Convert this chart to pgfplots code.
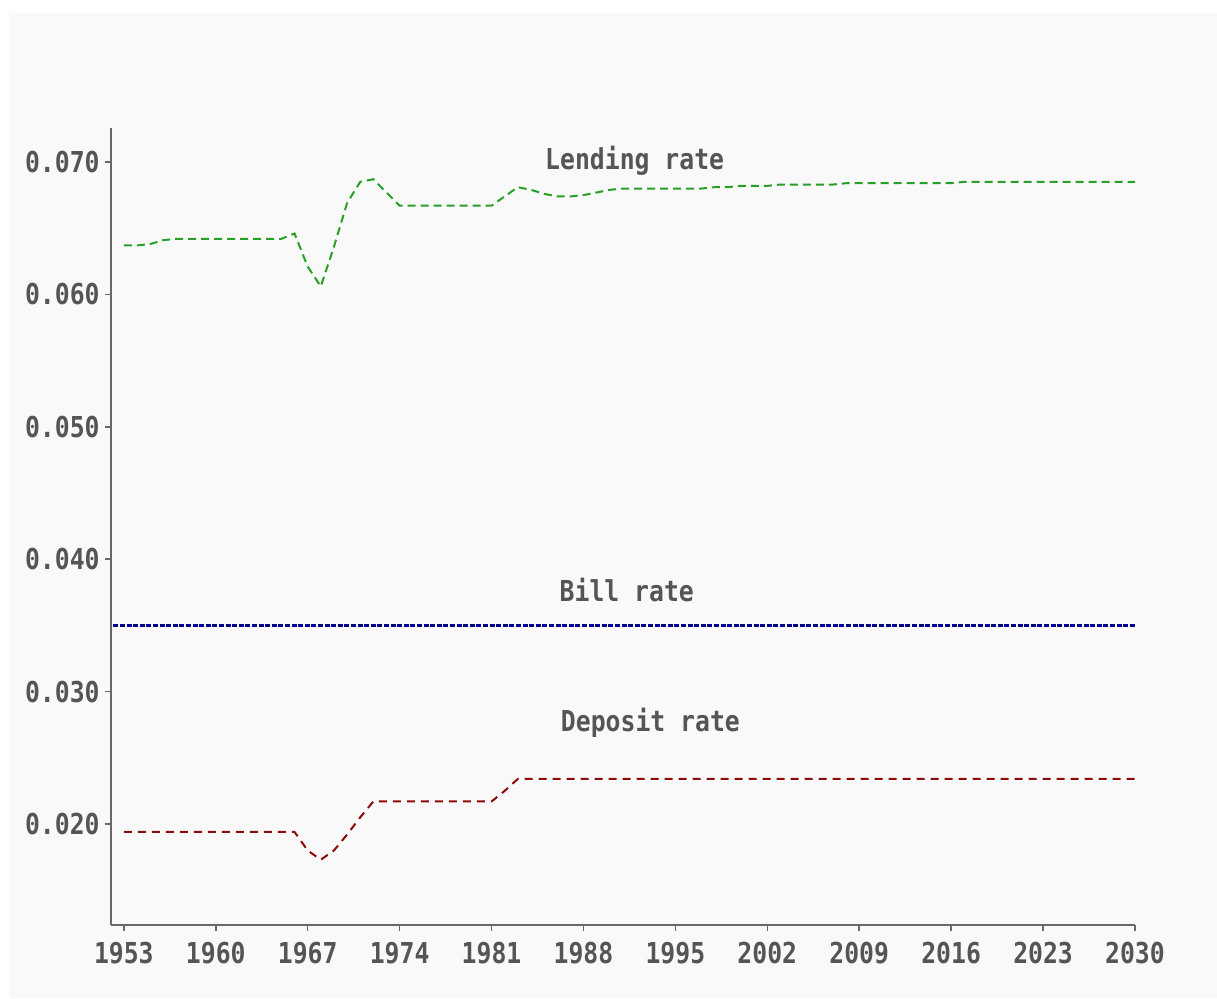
\documentclass[border=0pt]{standalone}
\usepackage{fontspec}
\usepackage{pgfplots}
\pgfplotsset{compat=1.18}
\newfontfamily\chartfont{DejaVu Sans Mono}[FakeStretch=0.86]
\definecolor{panel}{RGB}{249,249,249}
\definecolor{txt}{RGB}{85,85,85}
\definecolor{spine}{RGB}{105,105,105}
\definecolor{lendc}{RGB}{40,160,40}
\definecolor{billc}{RGB}{0,0,140}
\definecolor{depc}{RGB}{140,10,10}

\begin{document}
\begin{tikzpicture}
\fill[white] (0,0) rectangle (608.5pt,499pt);
\fill[panel] (4.5pt,0) rectangle (608.5pt,492.5pt);
\begin{axis}[
    at={(55.35pt,36.5pt)}, anchor=south west,
    scale only axis,
    width=512.15pt, height=398.5pt,
    xmin=1952, xmax=2030,
    ymin=0.01237, ymax=0.07257,
    axis x line*=bottom, axis y line*=left,
    axis line style={spine, line width=1pt},
    tick align=outside,
    major tick length=3pt,
    tick style={spine, line width=0.8pt},
    xtick={1953,1960,1967,1974,1981,1988,1995,2002,2009,2016,2023,2030},
    ytick={0.02,0.03,0.04,0.05,0.06,0.07},
    scaled ticks=false,
    x tick label style={/pgf/number format/1000 sep={}, yshift=-2pt},
    y tick label style={/pgf/number format/fixed, /pgf/number format/fixed zerofill, /pgf/number format/precision=3, xshift=1pt},
    /pgf/number format/assume math mode=true,
    tick label style={font=\chartfont\bfseries\fontsize{14.4}{16}\selectfont, text=txt},
    clip=false,
]
% lending rate
\addplot[lendc, line width=1pt, dash pattern=on 4pt off 2.5pt] coordinates {
(1953,0.0637)(1954,0.0637)(1955,0.0638)(1956,0.0641)(1957,0.0642)(1958,0.0642)
(1959,0.0642)(1960,0.0642)(1961,0.0642)(1962,0.0642)(1963,0.0642)(1964,0.0642)
(1965,0.0642)(1966,0.0646)(1967,0.0621)(1968,0.0606)(1969,0.0636)(1970,0.0669)
(1971,0.0685)(1972,0.0687)(1973,0.0677)(1974,0.0667)(1975,0.0667)(1976,0.0667)
(1977,0.0667)(1978,0.0667)(1979,0.0667)(1980,0.0667)(1981,0.0667)(1982,0.0674)
(1983,0.0681)(1984,0.0679)(1985,0.0676)(1986,0.0674)(1987,0.0674)(1988,0.0675)
(1989,0.0677)(1990,0.0679)(1991,0.0680)(1992,0.0680)(1993,0.0680)(1994,0.0680)
(1995,0.0680)(1996,0.0680)(1997,0.0680)(1998,0.0681)(1999,0.0681)(2000,0.0682)
(2001,0.0682)(2002,0.0682)(2003,0.0683)(2004,0.0683)(2005,0.0683)(2006,0.0683)
(2007,0.0683)(2008,0.0684)(2009,0.0684)(2010,0.0684)(2011,0.0684)(2012,0.0684)
(2013,0.0684)(2014,0.0684)(2015,0.0684)(2016,0.0684)(2017,0.0685)(2018,0.0685)
(2019,0.0685)(2020,0.0685)(2021,0.0685)(2022,0.0685)(2023,0.0685)(2024,0.0685)
(2025,0.0685)(2026,0.0685)(2027,0.0685)(2028,0.0685)(2029,0.0685)(2030,0.0685)
};
% bill rate
\addplot[billc, line width=1.4pt, dash pattern=on 2.5pt off 0.8pt] coordinates {
(1952.2,0.0350)(1960,0.0350)(1970,0.0350)(1980,0.0350)(1990,0.0350)
(2000,0.0350)(2010,0.0350)(2020,0.0350)(2030,0.0350)
};
% deposit rate
\addplot[depc, line width=1pt, dash pattern=on 4pt off 3pt] coordinates {
(1953,0.0194)(1954,0.0194)(1955,0.0194)(1956,0.0194)(1957,0.0194)(1958,0.0194)
(1959,0.0194)(1960,0.0194)(1961,0.0194)(1962,0.0194)(1963,0.0194)(1964,0.0194)
(1965,0.0194)(1966,0.0194)(1967,0.0180)(1968,0.0173)(1969,0.0180)(1970,0.0192)
(1971,0.0205)(1972,0.0217)(1973,0.0217)(1974,0.0217)(1975,0.0217)(1976,0.0217)
(1977,0.0217)(1978,0.0217)(1979,0.0217)(1980,0.0217)(1981,0.0217)(1982,0.0225)
(1983,0.0234)(1990,0.0234)(2000,0.0234)(2010,0.0234)(2020,0.0234)(2030,0.0234)
};
\begin{scope}[every node/.style={anchor=base, text=txt, font=\chartfont\bfseries\fontsize{14.4}{16}\selectfont}]
\node at (axis cs:1991.9,0.0694) {Lending rate};
\node at (axis cs:1991.3,0.03684) {Bill rate};
\node at (axis cs:1993.1,0.02695) {Deposit rate};
\end{scope}
\end{axis}
\pgfresetboundingbox
\path (0,0) rectangle (608.5pt,499pt);
\end{tikzpicture}
\end{document}
